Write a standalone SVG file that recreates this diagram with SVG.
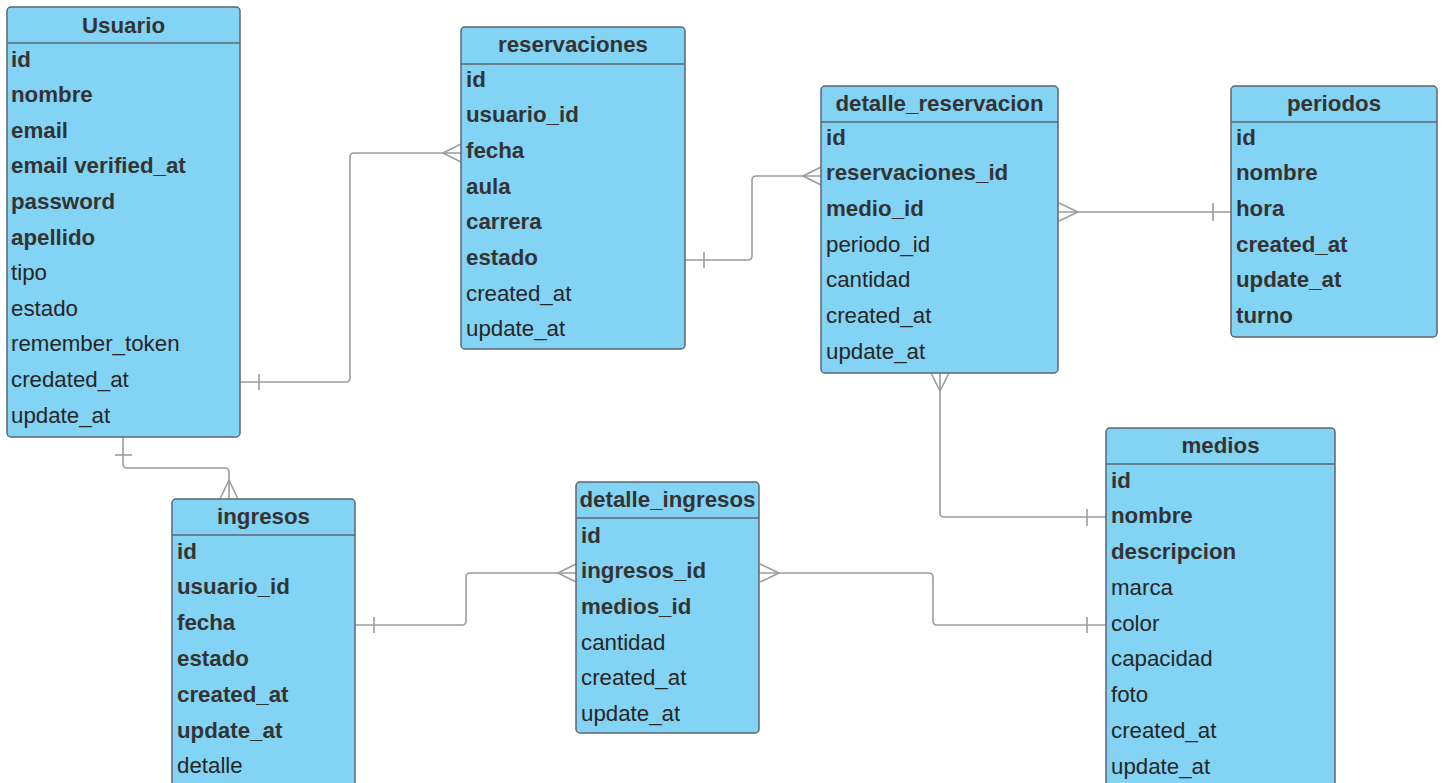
<svg xmlns="http://www.w3.org/2000/svg" width="1443" height="783" viewBox="0 0 1443 783">
  <style>
    .box { fill: #83d3f4; stroke: #5c6670; stroke-width: 1.5; }
    .sep { stroke: #5c6670; stroke-width: 1.5; }
    text { font-family: "Liberation Sans", Arial, sans-serif; font-size: 22.3px; fill: #262626; }
    .title { font-weight: bold; text-anchor: middle; fill: #333333; }
    .b { font-weight: bold; fill: #333333; }
    .link { fill: none; stroke: #9c9c9c; stroke-width: 1.6; stroke-linejoin: round; }
  </style>
  <rect width="1443" height="783" fill="#ffffff"/>

  <!-- connectors -->
  <g id="connectors" class="link">
    <!-- Usuario 1 — N reservaciones -->
    <path d="M240 382 H346 Q350 382 350 378 V157 Q350 153 354 153 H461"/>
    <path d="M259 374 V390"/>
    <path d="M461 144 L443 153 L461 162"/>
    <!-- reservaciones 1 — N detalle_reservacion -->
    <path d="M685 260 H748 Q752 260 752 256 V180 Q752 176 756 176 H821"/>
    <path d="M704 252 V268"/>
    <path d="M821 167 L803 176 L821 185"/>
    <!-- detalle_reservacion N — 1 periodos -->
    <path d="M1058 212 H1231"/>
    <path d="M1213 203 V221"/>
    <path d="M1059 203 L1078 212 L1059 221"/>
    <!-- detalle_reservacion N — 1 medios -->
    <path d="M940 373 V513 Q940 517 944 517 H1106"/>
    <path d="M1087 509 V526"/>
    <path d="M931 373 L940 391 L949 373"/>
    <!-- Usuario 1 — N ingresos -->
    <path d="M123 437 V464 Q123 468 127 468 H225 Q229 468 229 472 V499"/>
    <path d="M115 455 H132"/>
    <path d="M220 499 L229 480 L238 499"/>
    <!-- ingresos 1 — N detalle_ingresos -->
    <path d="M355 625 H462 Q466 625 466 621 V577 Q466 573 470 573 H576"/>
    <path d="M374 617 V633"/>
    <path d="M576 564 L558 573 L576 582"/>
    <!-- detalle_ingresos N — 1 medios -->
    <path d="M759 573 H929 Q933 573 933 577 V621 Q933 625 937 625 H1106"/>
    <path d="M1087 617 V633"/>
    <path d="M760 564 L779 573 L760 582"/>
  </g>

  <!-- Usuario -->
  <g id="usuario">
    <rect class="box" x="7" y="7" width="233" height="430" rx="4"/>
    <line class="sep" x1="7" y1="43" x2="240" y2="43"/>
    <text class="title" x="123.5" y="32.5">Usuario</text>
    <text class="b" x="11" y="66.5">id</text>
    <text class="b" x="11" y="102">nombre</text>
    <text class="b" x="11" y="137.7">email</text>
    <text class="b" x="11" y="173.3">email verified_at</text>
    <text class="b" x="11" y="208.9">password</text>
    <text class="b" x="11" y="244.5">apellido</text>
    <text x="11" y="280.1">tipo</text>
    <text x="11" y="315.7">estado</text>
    <text x="11" y="351.3">remember_token</text>
    <text x="11" y="386.9">credated_at</text>
    <text x="11" y="422.5">update_at</text>
  </g>

  <!-- reservaciones -->
  <g id="reservaciones">
    <rect class="box" x="461" y="27" width="224" height="322" rx="4"/>
    <line class="sep" x1="461" y1="64" x2="685" y2="64"/>
    <text class="title" x="573" y="52">reservaciones</text>
    <text class="b" x="466" y="86.5">id</text>
    <text class="b" x="466" y="122.2">usuario_id</text>
    <text class="b" x="466" y="157.9">fecha</text>
    <text class="b" x="466" y="193.6">aula</text>
    <text class="b" x="466" y="229.3">carrera</text>
    <text class="b" x="466" y="265">estado</text>
    <text x="466" y="300.7">created_at</text>
    <text x="466" y="336.4">update_at</text>
  </g>

  <!-- detalle_reservacion -->
  <g id="detalle_reservacion">
    <rect class="box" x="821" y="86" width="237" height="287" rx="4"/>
    <line class="sep" x1="821" y1="122" x2="1058" y2="122"/>
    <text class="title" x="939.5" y="111">detalle_reservacion</text>
    <text class="b" x="826" y="144.5">id</text>
    <text class="b" x="826" y="180.2">reservaciones_id</text>
    <text class="b" x="826" y="215.9">medio_id</text>
    <text x="826" y="251.6">periodo_id</text>
    <text x="826" y="287.3">cantidad</text>
    <text x="826" y="323">created_at</text>
    <text x="826" y="358.7">update_at</text>
  </g>

  <!-- periodos -->
  <g id="periodos">
    <rect class="box" x="1231" y="86" width="206" height="251" rx="4"/>
    <line class="sep" x1="1231" y1="122" x2="1437" y2="122"/>
    <text class="title" x="1334" y="111">periodos</text>
    <text class="b" x="1236" y="144.5">id</text>
    <text class="b" x="1236" y="180.2">nombre</text>
    <text class="b" x="1236" y="215.9">hora</text>
    <text class="b" x="1236" y="251.6">created_at</text>
    <text class="b" x="1236" y="287.3">update_at</text>
    <text class="b" x="1236" y="323">turno</text>
  </g>

  <!-- medios -->
  <g id="medios">
    <rect class="box" x="1106" y="428" width="229" height="380" rx="4"/>
    <line class="sep" x1="1106" y1="464" x2="1335" y2="464"/>
    <text class="title" x="1220.5" y="453">medios</text>
    <text class="b" x="1111" y="487.5">id</text>
    <text class="b" x="1111" y="523.2">nombre</text>
    <text class="b" x="1111" y="559">descripcion</text>
    <text x="1111" y="594.7">marca</text>
    <text x="1111" y="630.5">color</text>
    <text x="1111" y="666.2">capacidad</text>
    <text x="1111" y="702">foto</text>
    <text x="1111" y="737.7">created_at</text>
    <text x="1111" y="773.5">update_at</text>
  </g>

  <!-- ingresos -->
  <g id="ingresos">
    <rect class="box" x="172" y="499" width="183" height="310" rx="4"/>
    <line class="sep" x1="172" y1="535" x2="355" y2="535"/>
    <text class="title" x="263.5" y="524">ingresos</text>
    <text class="b" x="177" y="558.5">id</text>
    <text class="b" x="177" y="594.3">usuario_id</text>
    <text class="b" x="177" y="630.1">fecha</text>
    <text class="b" x="177" y="665.9">estado</text>
    <text class="b" x="177" y="701.7">created_at</text>
    <text class="b" x="177" y="737.5">update_at</text>
    <text x="177" y="773.3">detalle</text>
  </g>

  <!-- detalle_ingresos -->
  <g id="detalle_ingresos">
    <rect class="box" x="576" y="482" width="183" height="251" rx="4"/>
    <line class="sep" x1="576" y1="518" x2="759" y2="518"/>
    <text class="title" x="667.5" y="507">detalle_ingresos</text>
    <text class="b" x="581" y="542.5">id</text>
    <text class="b" x="581" y="578.2">ingresos_id</text>
    <text class="b" x="581" y="613.9">medios_id</text>
    <text x="581" y="649.6">cantidad</text>
    <text x="581" y="685.3">created_at</text>
    <text x="581" y="721">update_at</text>
  </g>
</svg>
